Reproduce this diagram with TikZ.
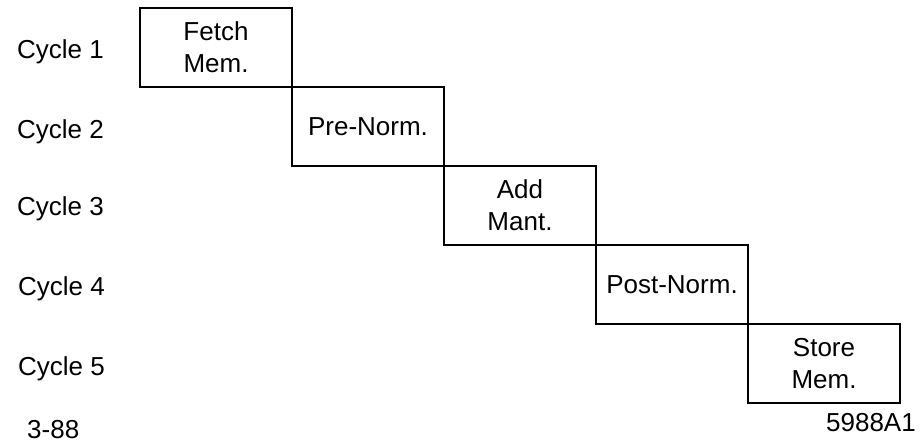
\documentclass[tikz,border=0pt]{standalone}
\usepackage{fontspec}
\setmainfont{Liberation Sans}
\usetikzlibrary{positioning}

\begin{document}
\begin{tikzpicture}[
  x=1pt, y=-1pt,
  every node/.style={font=\fontsize{26}{32}\selectfont, align=center},
  stage/.style={rectangle, draw=black, line width=2.6pt, outer sep=0pt, inner sep=0pt,
                minimum width=152pt, minimum height=79pt},
  cyc/.style={anchor=base west, inner sep=0pt},
  tag/.style={inner sep=0pt}
]
\useasboundingbox (0,0) rectangle (921,445);

% pipeline stages
\node[stage, anchor=north west] (fetch) at (140,8) {Fetch\\Mem.};
\node[stage, below right=0pt and 0pt of fetch] (prenorm) {Pre-Norm.};
\node[stage, below right=0pt and 0pt of prenorm] (addmant) {Add\\Mant.};
\node[stage, below right=0pt and 0pt of addmant] (postnorm) {Post-Norm.};
\node[stage, below right=0pt and 0pt of postnorm] (store) {Store\\Mem.};

% cycle labels
\node[cyc] (cyc1) at (17,58) {Cycle 1};
\node[cyc] (cyc2) at (17,138) {Cycle 2};
\node[cyc] (cyc3) at (17,215) {Cycle 3};
\node[cyc] (cyc4) at (18,295) {Cycle 4};
\node[cyc] (cyc5) at (18,375) {Cycle 5};

% figure tags
\node[tag, anchor=base west] (date) at (27,438) {3-88};
\node[tag, anchor=base east] (fignum) at (916,431) {5988A1};

\end{tikzpicture}
\end{document}
